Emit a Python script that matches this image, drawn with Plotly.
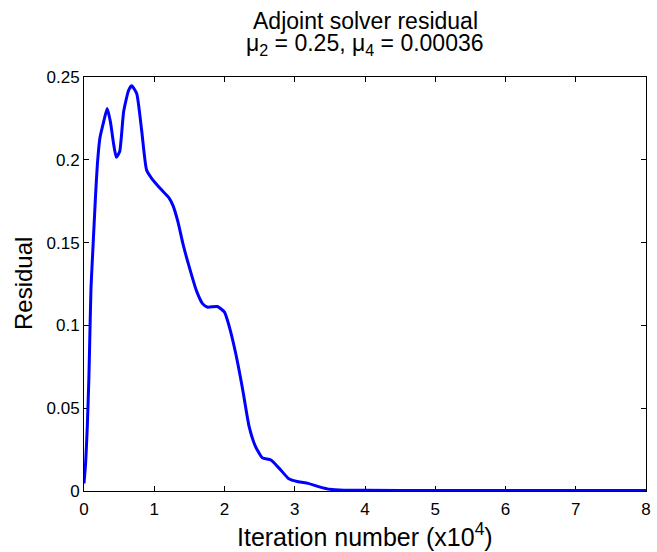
import plotly.graph_objects as go

# Iterations in units of 1e4, residual values
iterations = [0, 0.023, 0.047, 0.07, 0.085, 0.10, 0.13, 0.165, 0.19, 0.226, 0.28, 0.33, 0.376,
              0.42, 0.46, 0.508, 0.564, 0.635, 0.68, 0.75, 0.82, 0.89, 0.96, 1.10, 1.21, 1.27,
              1.34, 1.41, 1.50, 1.60, 1.69, 1.76, 1.90, 2.0, 2.07, 2.16, 2.26, 2.35, 2.44, 2.54,
              2.66, 2.80, 2.91, 3.05, 3.19, 3.35, 3.5, 3.7, 4, 5, 6, 7, 8]
residual = [0.0046, 0.017, 0.039, 0.069, 0.097, 0.123, 0.149, 0.179, 0.197, 0.213, 0.223, 0.231,
            0.223, 0.21, 0.2015, 0.205, 0.229, 0.242, 0.2447, 0.240, 0.218, 0.194, 0.189, 0.182,
            0.177, 0.172, 0.162, 0.149, 0.135, 0.121, 0.113, 0.111, 0.1114, 0.108, 0.099, 0.083,
            0.061, 0.039, 0.027, 0.020, 0.0187, 0.0127, 0.0076, 0.0056, 0.0046, 0.0025, 0.001,
            0.0005, 0.0004, 0.0003, 0.0003, 0.0003, 0.0003]

x_ticks = [0, 1, 2, 3, 4, 5, 6, 7, 8]
x_ticktext = ["0", "1", "2", "3", "4", "5", "6", "7", "8"]
y_ticks = [0, 0.05, 0.1, 0.15, 0.2, 0.25]
y_ticktext = ["0", "0.05", "0.1", "0.15", "0.2", "0.25"]

title_line1 = "Adjoint solver residual"
title_line2 = "μ<sub>2</sub> = 0.25, μ<sub>4</sub> = 0.00036"
x_label = "Iteration number (x10<sup>4</sup>)"
y_label = "Residual"

FONT = "Liberation Sans, Arial, Helvetica, sans-serif"

fig = go.Figure()
fig.add_trace(go.Scatter(x=iterations, y=residual, mode="lines",
                         line=dict(color="#0000FF", width=3, shape="spline", smoothing=0.5),
                         showlegend=False))

axis_common = dict(showgrid=False, zeroline=False, showline=True, linecolor="black",
                   linewidth=1, mirror="ticks", ticks="inside", ticklen=5, tickcolor="black",
                   tickwidth=1, tickfont=dict(family=FONT, size=17, color="black"),
                   layer="below traces")

fig.update_xaxes(range=[0, 8], tickmode="array", tickvals=x_ticks, ticktext=x_ticktext,
                 ticklabelstandoff=3, **axis_common)
fig.update_yaxes(range=[0, 0.25], tickmode="array", tickvals=y_ticks, ticktext=y_ticktext,
                 **axis_common)

fig.update_layout(
    width=657, height=552,
    margin=dict(l=84, r=6, t=77, b=61),
    paper_bgcolor="white", plot_bgcolor="white",
    font=dict(family=FONT, color="black"),
    annotations=[
        dict(text=title_line1, xref="paper", yref="paper", x=0.5, y=1, yshift=56,
             xanchor="center", yanchor="middle", showarrow=False,
             font=dict(family=FONT, size=23, color="black")),
        dict(text=title_line2, xref="paper", yref="paper", x=0.5, y=1, yshift=33,
             xanchor="center", yanchor="middle", showarrow=False,
             font=dict(family=FONT, size=23, color="black")),
        dict(text=x_label, xref="paper", yref="paper", x=0.5, y=0, yshift=-44,
             xanchor="center", yanchor="middle", showarrow=False,
             font=dict(family=FONT, size=25, color="black")),
        dict(text=y_label, xref="paper", yref="paper", x=0, y=0.5, xshift=-61,
             xanchor="center", yanchor="middle", showarrow=False, textangle=-90,
             font=dict(family=FONT, size=24, color="black")),
    ],
)

fig.write_html("out.html")
